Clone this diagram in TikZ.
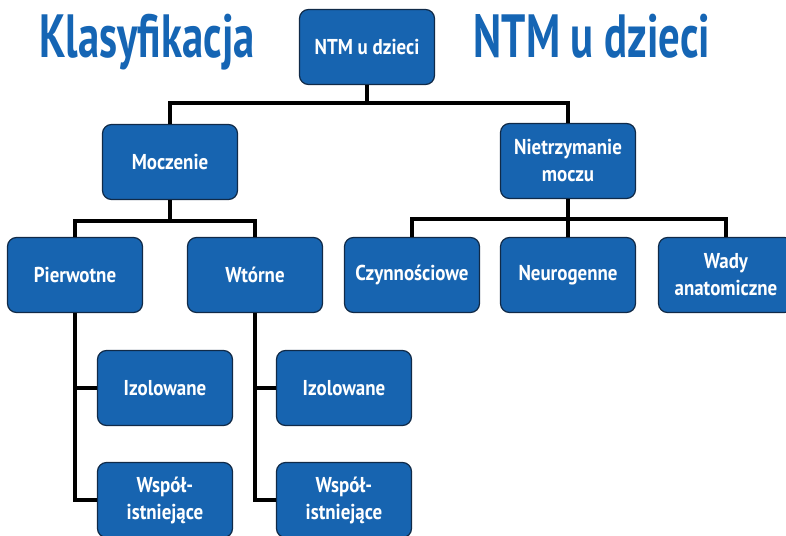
\documentclass[tikz,border=0pt]{standalone}
\usepackage{fontspec}
\setmainfont{PT Sans}
\newfontfamily\boxfont{PT Sans}[FakeStretch=0.88]
\newfontfamily\titlefont{PT Sans}[FakeStretch=0.7]
\usepackage{tikz}
\usetikzlibrary{positioning}
\definecolor{boxblue}{HTML}{1764B0}
\definecolor{boxline}{HTML}{102A48}
\definecolor{titleblue}{HTML}{1565B4}
\begin{document}
\begin{tikzpicture}[
    x=1pt,
    y=-1pt,
    box/.style={
      draw=boxline,
      fill=boxblue,
      line width=1.2pt,
      rounded corners=9pt,
      minimum width=135pt,
      minimum height=75pt,
      text=white,
      align=center,
      font=\boxfont\bfseries\fontsize{21.5}{27}\selectfont
      },
    link/.style={
      line width=3.8pt
      },
    title/.style={
      anchor=base,
      text=titleblue,
      inner sep=0pt,
      font=\titlefont\bfseries\fontsize{61}{66}\selectfont
      }
    ]
    \useasboundingbox (0,0) rectangle (786,535);
    % titles
    \node[title] (tleft) at (147,57) {Klasyfikacja};
    \node[title] (tright) at (592,57) {NTM u dzieci};
    \coordinate (rootbus) at (367,103);
    \coordinate (mocbus) at (170,221);
    \coordinate (niebus) at (568,219);
    % boxes
    \node[box] (root) at (367,47) {NTM u dzieci};
    \node[box] (moc) at (170,162) {Moczenie};
    \node[box] (nie) at (568,161) {Nietrzymanie\\moczu};
    \node[box] (pie) at (75,275) {Pierwotne};
    \node[box] (wto) at (255,275) {Wtórne};
    \node[box] (czy) at (412,275) {Czynnościowe};
    \node[box] (neu) at (568,275) {Neurogenne};
    \node[box] (wad) at (726,275) {Wady\\anatomiczne};
    \node[box] (pieiz) at (165,388) {Izolowane};
    \node[box] (piewsp) at (165,500) {Współ-\\istniejące};
    \node[box] (wtoiz) at (344,388) {Izolowane};
    \node[box] (wtowsp) at (344,500) {Współ-\\istniejące};
    % tree
    \draw[link] (root.south) -- (rootbus);
    \foreach \kid in {moc,nie}
      \draw[link] (rootbus) -| (\kid.north);
    \draw[link] (moc.south) -- (mocbus);
    \foreach \kid in {pie,wto}
      \draw[link] (mocbus) -| (\kid.north);
    \draw[link] (nie.south) -- (niebus);
    \foreach \kid in {czy,neu,wad}
      \draw[link] (niebus) -| (\kid.north);
    \foreach \up/\kid in {pie/pieiz,pie/piewsp,wto/wtoiz,wto/wtowsp}
      \draw[link] (\up.south) |- (\kid.west);
\end{tikzpicture}
\end{document}
